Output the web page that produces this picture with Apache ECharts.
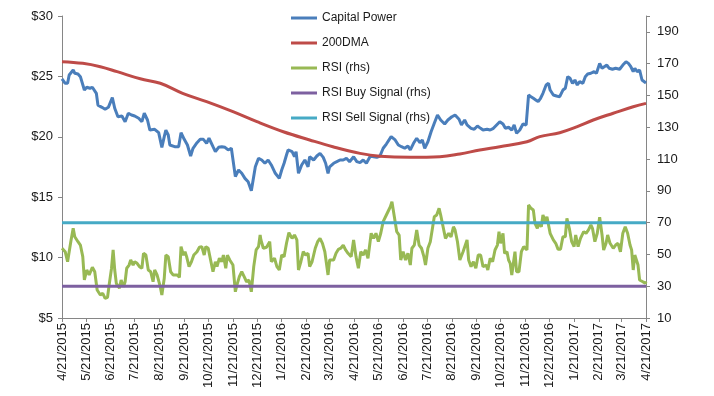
<!DOCTYPE html>
<html>
<head>
<meta charset="utf-8">
<title>Capital Power - 200DMA and RSI</title>
<script src="https://cdn.jsdelivr.net/npm/echarts@6/dist/echarts.min.js"></script>
<style>
    html, body { margin: 0; padding: 0; background: #fff; }
    #chart { width: 714px; height: 396px; }
</style>
</head>
<body>
<div id="chart"></div>
<script>
// x values below are days counted from the first date (4/21/2015)
var firstDay = Date.UTC(2015, 3, 21);
var dayCount = 731;

var tickLabels = ['4/21/2015', '5/21/2015', '6/21/2015', '7/21/2015', '8/21/2015', '9/21/2015',
    '10/21/2015', '11/21/2015', '12/21/2015', '1/21/2016', '2/21/2016', '3/21/2016', '4/21/2016',
    '5/21/2016', '6/21/2016', '7/21/2016', '8/21/2016', '9/21/2016', '10/21/2016', '11/21/2016',
    '12/21/2016', '1/21/2017', '2/21/2017', '3/21/2017', '4/21/2017'];

var priceDays = [0, 4, 7, 9, 14, 16, 20, 23, 28, 31, 35, 38, 43, 45, 50, 54, 58, 63, 66, 70, 75, 79, 83, 87, 91, 96,
    100, 103, 107, 110, 116, 121, 125, 128, 130, 133, 135, 141, 146, 149, 153, 157, 161, 164, 169, 173, 177,
    181, 184, 189, 192, 196, 200, 204, 208, 212, 217, 221, 225, 229, 233, 237, 242, 246, 250, 254, 258, 262,
    267, 272, 275, 278, 281, 283, 288, 291, 293, 296, 300, 304, 308, 310, 315, 319, 323, 327, 330, 333, 335,
    340, 344, 348, 352, 356, 360, 365, 369, 373, 377, 381, 386, 390, 394, 398, 402, 406, 412, 417, 421, 425,
    429, 433, 436, 440, 444, 448, 451, 454, 458, 462, 466, 470, 474, 479, 483, 488, 492, 497, 500, 504, 507,
    512, 516, 520, 524, 527, 532, 536, 540, 544, 548, 552, 555, 559, 563, 566, 569, 573, 577, 581, 583, 584,
    587, 590, 593, 596, 599, 602, 606, 609, 611, 615, 619, 623, 627, 630, 633, 636, 639, 642, 645, 648, 652,
    655, 658, 662, 666, 669, 673, 676, 678, 682, 685, 689, 693, 698, 702, 706, 709, 712, 715, 717, 720, 723,
    726, 728, 731];
var priceValues = [24.8, 24.43, 24.43, 25.12, 25.53, 25.26, 25.2, 24.98, 23.87, 24.1, 24.02, 24.1, 23.6, 22.62,
    22.44, 22.28, 22.44, 23.24, 22.36, 21.66, 21.72, 21.25, 21.95, 21.8, 21.72, 21.53, 21.25, 21.95, 21.39,
    20.56, 20.62, 20.34, 19.13, 20.01, 20.56, 20.15, 19.32, 19.18, 19.18, 20.34, 19.79, 19.32, 18.41, 19.05,
    19.51, 19.79, 19.79, 19.46, 19.88, 19.18, 18.77, 19.13, 19.18, 19.13, 18.91, 19.05, 16.7, 17.25, 16.98,
    16.56, 16.28, 15.54, 17.52, 18.22, 18.08, 17.81, 18.08, 17.67, 16.98, 16.56, 17.25, 17.81, 18.49, 18.91,
    18.77, 18.35, 18.77, 16.98, 17.67, 18.08, 17.52, 18.35, 18.08, 18.41, 18.63, 18.3, 17.81, 16.98, 17.52,
    17.81, 17.94, 18.08, 18.08, 18.22, 17.94, 18.35, 17.94, 17.86, 18.08, 17.81, 18.41, 18.35, 18.3, 18.41,
    19.05, 19.4, 20.01, 19.74, 19.32, 19.18, 19.05, 19.24, 18.91, 19.46, 19.88, 19.51, 19.74, 19.05, 19.59,
    20.42, 21.12, 21.8, 21.39, 21.06, 21.39, 21.66, 21.8, 21.45, 20.98, 21.39, 20.98, 20.7, 20.62, 20.89,
    20.7, 20.56, 20.62, 20.56, 20.7, 20.98, 21.25, 21.06, 20.7, 20.79, 20.56, 20.98, 20.29, 20.56, 21.06,
    20.98, 21.12, 23.46, 23.32, 23.19, 23.05, 22.91, 23.19, 23.6, 24.29, 24.43, 23.87, 23.46, 23.38, 23.32,
    23.87, 24.02, 24.98, 24.84, 24.43, 24.7, 24.29, 24.56, 24.43, 24.98, 25.2, 25.26, 25.39, 25.26, 26.08,
    25.67, 25.53, 25.94, 25.67, 25.59, 25.67, 25.59, 25.94, 26.22, 26.08, 25.8, 25.39, 25.67, 25.39, 25.53,
    24.7, 24.56, 24.45];

var dmaDays = [0, 26, 48, 69, 98, 123, 151, 181, 214, 244, 277, 310, 339, 373, 398, 436, 473, 498, 523, 548,
    582, 598, 623, 645, 665, 690, 715, 731];
var dmaValues = [26.22, 26.08, 25.8, 25.39, 24.8, 24.43, 23.6, 22.91, 22.08, 21.25, 20.42, 19.74, 19.18, 18.63,
    18.39, 18.3, 18.35, 18.58, 18.91, 19.18, 19.59, 20.01, 20.34, 20.84, 21.39, 21.95, 22.49, 22.77];

var rsiDays = [0, 4, 7, 9, 11, 14, 16, 20, 23, 26, 28, 31, 34, 38, 41, 44, 48, 51, 54, 57, 59, 62, 64, 66, 68, 72,
    74, 77, 79, 81, 84, 86, 89, 91, 94, 97, 100, 102, 105, 108, 111, 114, 116, 119, 123, 125, 128, 130, 133,
    136, 139, 144, 147, 149, 152, 154, 156, 159, 162, 165, 169, 172, 175, 178, 180, 183, 186, 189, 192, 194,
    197, 200, 202, 205, 207, 210, 214, 217, 219, 222, 225, 228, 231, 234, 237, 240, 243, 246, 248, 249, 252,
    256, 260, 262, 266, 269, 272, 275, 278, 281, 284, 288, 291, 294, 296, 299, 302, 305, 308, 310, 313, 317,
    320, 323, 326, 329, 333, 335, 340, 343, 346, 349, 352, 355, 358, 362, 365, 368, 371, 374, 377, 380, 383,
    387, 390, 393, 396, 399, 402, 406, 411, 413, 416, 419, 422, 424, 427, 430, 433, 436, 438, 441, 444, 447,
    450, 453, 455, 458, 461, 464, 466, 469, 472, 474, 477, 480, 484, 487, 490, 492, 495, 498, 502, 504, 507,
    509, 512, 515, 518, 521, 524, 527, 531, 533, 536, 539, 542, 545, 547, 549, 552, 554, 557, 559, 561, 563,
    565, 567, 569, 572, 575, 578, 582, 584, 587, 590, 592, 595, 597, 600, 602, 605, 607, 611, 615, 618, 621,
    624, 627, 630, 632, 635, 638, 641, 643, 646, 649, 653, 656, 659, 662, 664, 667, 670, 673, 676, 678, 681,
    683, 686, 690, 693, 696, 699, 702, 705, 708, 711, 713, 715, 717, 719, 721, 723, 727, 730, 731];
var rsiValues = [53.9, 51.7, 45.4, 46.5, 58, 66.4, 61.1, 58, 55.9, 48.6, 33.9, 40.2, 37.1, 41.9, 39.1, 27.6, 24.5,
    25.5, 22.4, 23, 30.8, 41.3, 52.8, 40.2, 31.8, 28.7, 33.9, 29.7, 32.8, 41.3, 43.3, 46.5, 43.3, 45.4, 44.4,
    42.3, 41.3, 50.7, 49.6, 40.2, 39.1, 32.8, 40.2, 37.1, 29.7, 24.5, 35, 49.6, 48.6, 39.1, 37.1, 37.1, 35.6,
    54.9, 49.6, 51.7, 48.6, 42.3, 45.4, 49.6, 51.7, 54.5, 54.9, 49.6, 54.9, 53.9, 46.5, 39.1, 45.4, 42.3,
    47.6, 45.4, 49.6, 41.3, 49.6, 46.5, 43.3, 26.5, 30.8, 36, 39.1, 36, 32.8, 33.9, 26.5, 42.3, 52.8, 54.9,
    62.2, 59.1, 53.9, 54.5, 58, 45.4, 47.6, 42.3, 40.2, 49.6, 48.6, 57, 63.7, 60.1, 62.2, 59.1, 40.2, 45.4,
    51.7, 49.6, 50.7, 42.3, 45.4, 53.9, 58, 60.1, 57, 51.7, 37.1, 46.5, 46.5, 50.7, 53.2, 53.9, 55.9, 52.8,
    50.7, 48.6, 59.1, 48.6, 41.3, 51.7, 49.6, 52.8, 47.6, 63.3, 60.1, 63.3, 58, 63.3, 70.6, 74.8, 80, 83.2,
    73.7, 64.3, 62.2, 46.5, 51.7, 46.5, 50.7, 43.3, 53.9, 55.9, 65.4, 55.9, 53.9, 48.6, 43.3, 53.9, 58, 67.4,
    73.7, 74.8, 79, 74.8, 67.4, 60.1, 63.3, 61.1, 67.4, 65.4, 58, 46.5, 51.7, 50.7, 59.1, 46.5, 42.3, 45.4,
    41.3, 49.6, 49.6, 42.3, 43.3, 40.2, 47.6, 45.4, 52.8, 55.9, 64.3, 57, 63.3, 50.7, 51.7, 46.5, 44.4, 37.1,
    44.4, 51.7, 39.1, 39.1, 51.7, 54.9, 52.8, 81.1, 79, 77.9, 69.6, 66.4, 69.6, 67.4, 74.8, 70.6, 73.7, 63.3,
    59.1, 57, 53.2, 53.2, 61.1, 61.1, 72.7, 66.4, 58, 54.9, 62.2, 54.9, 60.1, 64.3, 63.3, 65.4, 68.5, 66.4,
    58, 63.3, 73.4, 62.2, 52.8, 57, 62.2, 57, 53.9, 55.9, 57, 51.7, 63.3, 67.4, 63.3, 55.9, 52.8, 40.2, 49.6,
    46.5, 43.3, 33.9, 32.8, 31.8, 33];

var rsiBuyLevel = 30;
var rsiSellLevel = 70;

// one category per calendar day
var categories = [];
for (var i = 0; i <= dayCount; i++) {
    var d = new Date(firstDay + i * 86400000);
    categories.push((d.getUTCMonth() + 1) + '/' + d.getUTCDate() + '/' + d.getUTCFullYear());
}

function pairs(days, values) {
    return days.map(function (d, i) { return [d, values[i]]; });
}

function isTick(index, value) {
    return tickLabels.indexOf(value) >= 0;
}

var axisColor = '#868686';
var labelFont = { color: '#1a1a1a', fontFamily: 'Liberation Sans', fontSize: 13 };

var chart = echarts.init(document.getElementById('chart'));
chart.setOption({
    animation: false,
    backgroundColor: '#fff',
    color: ['#4A7EBB', '#BE4B48', '#98B954', '#7D60A0', '#46AAC5'],
    grid: { left: 62, right: 68, top: 16, bottom: 78 },
    legend: {
        orient: 'vertical',
        left: 286,
        top: 7,
        icon: 'rect',
        itemWidth: 26,
        itemHeight: 3,
        itemGap: 13,
        textStyle: { color: '#1a1a1a', fontFamily: 'Liberation Sans', fontSize: 12 },
        data: ['Capital Power', '200DMA', 'RSI (rhs)', 'RSI Buy Signal (rhs)', 'RSI Sell Signal (rhs)']
    },
    xAxis: {
        type: 'category',
        data: categories,
        boundaryGap: false,
        axisLine: { lineStyle: { color: axisColor } },
        axisTick: { interval: isTick, length: 4, lineStyle: { color: axisColor } },
        axisLabel: Object.assign({ interval: isTick, rotate: 90, margin: 5 }, labelFont),
        splitLine: { show: false }
    },
    yAxis: [{
        type: 'value',
        min: 5,
        max: 30,
        interval: 5,
        axisLine: { show: true, lineStyle: { color: axisColor } },
        axisTick: { show: true, length: 4, lineStyle: { color: axisColor } },
        axisLabel: Object.assign({ margin: 9, formatter: '${value}' }, labelFont),
        splitLine: { show: false }
    }, {
        type: 'value',
        min: 10,
        max: 200,
        interval: 20,
        axisLine: { show: true, lineStyle: { color: axisColor } },
        axisTick: { show: true, length: 4, lineStyle: { color: axisColor } },
        axisLabel: Object.assign({
            margin: 11,
            formatter: function (v) { return v >= 200 ? '' : v; }
        }, labelFont),
        splitLine: { show: false }
    }],
    series: [{
        name: 'Capital Power',
        type: 'line',
        symbol: 'none',
        yAxisIndex: 0,
        lineStyle: { width: 3 },
        data: pairs(priceDays, priceValues)
    }, {
        name: '200DMA',
        type: 'line',
        symbol: 'none',
        smooth: 0.4,
        yAxisIndex: 0,
        lineStyle: { width: 3 },
        data: pairs(dmaDays, dmaValues)
    }, {
        name: 'RSI (rhs)',
        type: 'line',
        symbol: 'none',
        yAxisIndex: 1,
        lineStyle: { width: 3 },
        data: pairs(rsiDays, rsiValues)
    }, {
        name: 'RSI Buy Signal (rhs)',
        type: 'line',
        symbol: 'none',
        yAxisIndex: 1,
        lineStyle: { width: 3 },
        data: [[0, rsiBuyLevel], [dayCount, rsiBuyLevel]]
    }, {
        name: 'RSI Sell Signal (rhs)',
        type: 'line',
        symbol: 'none',
        yAxisIndex: 1,
        lineStyle: { width: 3 },
        data: [[0, rsiSellLevel], [dayCount, rsiSellLevel]]
    }]
});
</script>
</body>
</html>
